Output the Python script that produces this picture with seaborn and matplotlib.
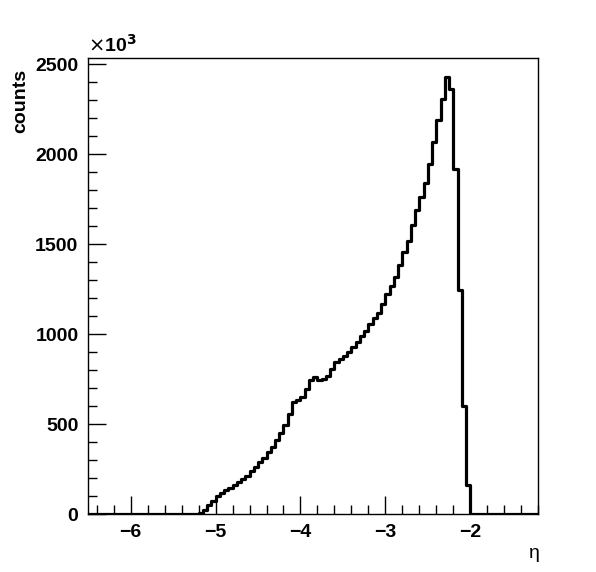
import numpy as np
import pandas as pd
import matplotlib.pyplot as plt
import seaborn as sns
from matplotlib.ticker import MultipleLocator

# bin edges of the eta histogram (width 0.05)
x_min, x_max, bin_width = -6.5, -1.2, 0.05

# counts (x10^3) for the non-empty bins, starting at eta = -5.20 and ending at -2.00
first_bin = -5.20
counts_k = [
    8, 25, 50, 75, 100, 120, 135, 145, 160, 180,
    195, 215, 240, 260, 290, 315, 345, 375, 410, 450,
    495, 555, 625, 635, 650, 695, 745, 760, 745, 750,
    765, 805, 845, 860, 880, 900, 930, 955, 990, 1020,
    1055, 1090, 1120, 1170, 1225, 1270, 1315, 1385, 1455, 1520,
    1605, 1690, 1760, 1840, 1945, 2065, 2190, 2305, 2427, 2360,
    1920, 1245, 600, 160,
]

n_bins = int(round((x_max - x_min) / bin_width))
centers = x_min + bin_width * (np.arange(n_bins) + 0.5)
weights = np.zeros(n_bins)
start = int(round((first_bin - x_min) / bin_width))
weights[start:start + len(counts_k)] = counts_k
df = pd.DataFrame({"eta": centers, "w": weights})

sns.set_style("white")
plt.rcParams['font.family'] = ['Liberation Sans', 'DejaVu Sans']
plt.rcParams['text.color'] = 'black'
plt.rcParams['xtick.color'] = 'black'
plt.rcParams['ytick.color'] = 'black'
plt.rcParams['axes.labelcolor'] = 'black'

fig = plt.figure(figsize=(5.96, 5.72), dpi=100)
ax = fig.add_axes([0.148, 0.101, 0.755, 0.798])

sns.histplot(data=df, x="eta", weights="w", binwidth=bin_width, binrange=(x_min, x_max),
             element="step", fill=False, color="black", linewidth=2.3, ax=ax)

ax.set_xlim(x_min, x_max)
ax.set_ylim(0, 2535)

ax.xaxis.set_major_locator(MultipleLocator(1))
ax.xaxis.set_minor_locator(MultipleLocator(0.2))
ax.yaxis.set_major_locator(MultipleLocator(500))
ax.yaxis.set_minor_locator(MultipleLocator(100))
ax.tick_params(which="both", direction="in", top=False, right=False,
               bottom=True, left=True, color="black", width=1,
               labelcolor="black")
ax.tick_params(which="major", length=13, labelsize=14, pad=7)
ax.tick_params(which="minor", length=6.5)
xt = np.arange(-6, -1, 1)
ax.set_xticks(xt)
ax.set_xticklabels([f"\u2212{abs(int(t))}" for t in xt], fontweight="bold")
for lab in ax.get_yticklabels():
    lab.set_fontweight("bold")
ax.set_xlim(x_min, x_max)

for s in ax.spines.values():
    s.set_color("black")
    s.set_linewidth(1)

ax.set_xlabel("")
ax.set_ylabel("")
fig.text(0.035, 0.88, "counts", rotation=90, ha="center", va="top",
         fontsize=14, fontweight="bold", color="black")
fig.text(0.905, 0.018, "\u03b7", ha="right", va="bottom", fontsize=14, color="black")
fig.text(0.148, 0.903, r"$\times$10$^{\mathbf{3}}$", ha="left", va="bottom",
         fontsize=14, fontweight="bold", color="black")

fig.savefig("out.png", dpi=100)
